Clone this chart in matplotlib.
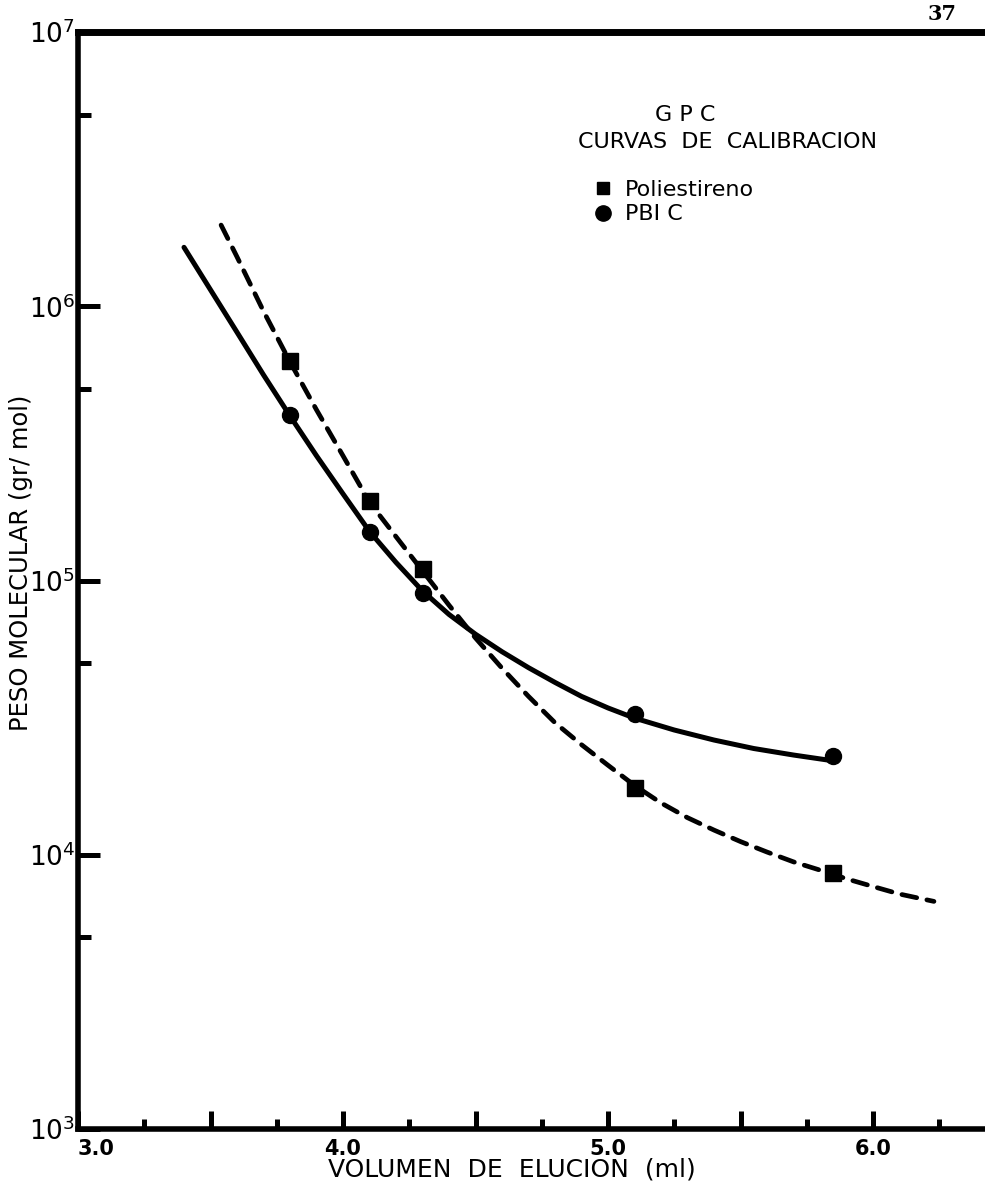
import numpy as np
import matplotlib
matplotlib.use('Agg')
from matplotlib import pyplot as plt
from matplotlib.lines import Line2D
from matplotlib.ticker import FixedLocator, NullFormatter

plt.rcParams['font.family'] = ['DejaVu Sans']
plt.rcParams['mathtext.default'] = 'regular'

# measured points
ps_vol = [3.8, 4.1, 4.3, 5.1, 5.85]
ps_mw = [6.3e5, 1.95e5, 1.1e5, 1.75e4, 8.6e3]
pbic_vol = [3.8, 4.1, 4.3, 5.1, 5.85]
pbic_mw = [4.0e5, 1.5e5, 9.0e4, 3.25e4, 2.3e4]

# calibration curves
pbic_curve_vol = [3.40, 3.50, 3.60, 3.70, 3.80, 3.90, 4.00, 4.10, 4.20, 4.30, 4.40, 4.50,
                  4.60, 4.70, 4.80, 4.90, 5.00, 5.10, 5.25, 5.40, 5.55, 5.70, 5.85]
pbic_curve_mw = [1.64e6, 1.148e6, 8.04e5, 5.62e5, 3.98e5, 2.85e5, 2.07e5, 1.51e5, 1.164e5,
                 9.16e4, 7.52e4, 6.37e4, 5.50e4, 4.81e4, 4.25e4, 3.78e4, 3.43e4, 3.15e4,
                 2.85e4, 2.62e4, 2.44e4, 2.31e4, 2.20e4]
ps_curve_vol = [3.54, 3.60, 3.70, 3.80, 3.90, 4.00, 4.10, 4.20, 4.30, 4.40, 4.50, 4.60,
                4.70, 4.80, 4.90, 5.00, 5.10, 5.20, 5.30, 5.40, 5.50, 5.60, 5.70, 5.80,
                5.90, 6.00, 6.10, 6.23]
ps_curve_mw = [1.977e6, 1.514e6, 9.59e5, 6.27e5, 4.19e5, 2.85e5, 1.93e5, 1.445e5, 1.084e5,
               8.13e4, 6.17e4, 4.79e4, 3.78e4, 3.03e4, 2.52e4, 2.12e4, 1.79e4, 1.545e4,
               1.365e4, 1.23e4, 1.117e4, 1.023e4, 9.42e3, 8.79e3, 8.17e3, 7.66e3, 7.19e3,
               6.76e3]

xticks_major = [3.0, 3.5, 4.0, 4.5, 5.0, 5.5, 6.0]
xtick_labels = ['3.0', '', '4.0', '', '5.0', '', '6.0']
xticks_minor = [3.25, 3.75, 4.25, 4.75, 5.25, 5.75, 6.25]
yticks_major = [1e3, 1e4, 1e5, 1e6, 1e7]
ytick_labels = ['$10^{3}$', '$10^{4}$', '$10^{5}$', '$10^{6}$', '$10^{7}$']
yticks_minor = [5e3, 5e4, 5e5, 5e6]

fig = plt.figure(figsize=(9.85, 11.84), dpi=100)
ax = fig.add_axes([78/985, 1 - 1129/1184, 1 - 78/985, (1129 - 32)/1184])

ax.plot(pbic_curve_vol, pbic_curve_mw, color='black', lw=3.6,
        solid_capstyle='round', solid_joinstyle='round')
ax.plot(ps_curve_vol, ps_curve_mw, color='black', lw=3.4, dashes=(3.2, 2.2),
        dash_capstyle='round')
ax.plot(ps_vol, ps_mw, 's', color='black', ms=11.5)
ax.plot(pbic_vol, pbic_mw, 'o', color='black', ms=11.5)

ax.set_yscale('log')
ax.set_xlim(3.0, 3.0 + 907/265)
ax.set_ylim(1e3, 1e7)

ax.set_xticks(xticks_major)
ax.set_xticklabels(xtick_labels, fontsize=15, fontweight='bold')
ax.get_xticklabels()[0].set_horizontalalignment('left')
ax.xaxis.set_minor_locator(FixedLocator(xticks_minor))
ax.set_yticks(yticks_major)
ax.set_yticklabels(ytick_labels, fontsize=19)
ax.yaxis.set_minor_locator(FixedLocator(yticks_minor))
ax.yaxis.set_minor_formatter(NullFormatter())

ax.tick_params(axis='x', which='major', direction='in', length=13, width=3.6, pad=7)
ax.tick_params(axis='x', which='minor', direction='in', length=7, width=3.6)
ax.tick_params(axis='y', which='major', direction='in', length=16, width=3.6, pad=2)
ax.tick_params(axis='y', which='minor', direction='in', length=9, width=3.6)

ax.spines['right'].set_visible(False)
ax.spines['left'].set_linewidth(4)
ax.spines['bottom'].set_linewidth(4)
ax.spines['top'].set_linewidth(5)

ax.text((685 - 78)/907, (1129 - 115)/1097, 'G P C', transform=ax.transAxes,
        ha='center', va='center', fontsize=16)
ax.text((728 - 78)/907, (1129 - 142)/1097, 'CURVAS  DE  CALIBRACION', transform=ax.transAxes,
        ha='center', va='center', fontsize=16)

handles = [Line2D([], [], marker='s', ls='none', color='black', ms=9),
           Line2D([], [], marker='o', ls='none', color='black', ms=11)]
ax.legend(handles, ['Poliestireno', 'PBI C'], loc='upper left',
          bbox_to_anchor=((592 - 78)/907, (1129 - 180)/1097), frameon=False,
          fontsize=16, handlelength=1, handletextpad=0.5, labelspacing=0.2,
          borderpad=0, borderaxespad=0)

fig.text(21/985, 1 - 563/1184, 'PESO MOLECULAR (gr/ mol)', rotation=90,
         ha='center', va='center', fontsize=17.5)
fig.text(512/985, 1 - 1170/1184, 'VOLUMEN  DE  ELUCION  (ml)',
         ha='center', va='center', fontsize=18)
fig.text(942/985, 1 - 14/1184, '37', ha='center', va='center',
         fontsize=15, fontweight='bold', family='DejaVu Serif')

plt.savefig('out.png', dpi=100)
